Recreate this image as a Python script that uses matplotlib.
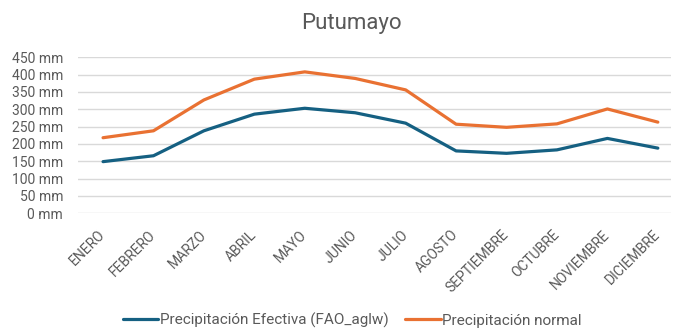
import matplotlib
matplotlib.use("Agg")
import matplotlib.pyplot as plt
import matplotlib.transforms as mtransforms
from matplotlib.ticker import FuncFormatter

plt.rcParams['font.family'] = ['Roboto', 'DejaVu Sans']

# monthly precipitation, Putumayo
meses = ['ENERO', 'FEBRERO', 'MARZO', 'ABRIL', 'MAYO', 'JUNIO', 'JULIO',
         'AGOSTO', 'SEPTIEMBRE', 'OCTUBRE', 'NOVIEMBRE', 'DICIEMBRE']
prec_efectiva = [149, 166, 238, 286, 303, 290, 260, 180, 173, 183, 216, 188]
prec_normal = [218, 238, 327, 387, 408, 389, 356, 257, 248, 258, 301, 263]

azul = '#156082'
naranja = '#E97132'
gris = '#595959'

fig = plt.figure(figsize=(6.75, 3.29), dpi=100)
ax = fig.add_axes([0.1153, 0.3517, 0.994 - 0.1153, 0.8258 - 0.3517])

x = list(range(len(meses)))
ax.plot(x, prec_efectiva, color=azul, lw=2.3, solid_capstyle='round',
        label='Precipitación Efectiva (FAO_aglw)')
ax.plot(x, prec_normal, color=naranja, lw=2.3, solid_capstyle='round',
        label='Precipitación normal')

ax.set_ylim(0, 450)
ax.set_yticks(range(0, 451, 50))
ax.yaxis.set_major_formatter(FuncFormatter(lambda v, p: '%d mm' % v))
ax.set_xlim(-0.5, 11.26)
ax.set_xticks(x)
ax.set_xticklabels(meses, rotation=45, ha='right', va='center',
                   rotation_mode='anchor', fontsize=10)
# nudge the rotated month names a bit to the right
shift = mtransforms.ScaledTranslation(0.05, 0, fig.dpi_scale_trans)
for lab in ax.get_xticklabels():
    lab.set_transform(lab.get_transform() + shift)

ax.grid(axis='y', color='#D9D9D9', lw=1.0)
ax.set_axisbelow(True)
for s in ax.spines.values():
    s.set_visible(False)
ax.tick_params(length=0, colors=gris)
ax.tick_params(axis='y', labelsize=10, pad=10.5)
ax.tick_params(axis='x', pad=14)

fig.text(0.521, 0.911, 'Putumayo', ha='center', va='baseline', fontsize=16, color=gris)

fig.legend(loc='center', bbox_to_anchor=(0.522, 0.026), ncol=2, frameon=False,
           fontsize=11, labelcolor=gris, handlelength=2.3, handletextpad=0.1,
           columnspacing=1.1, borderpad=0)

fig.savefig('out.png', dpi=100)
